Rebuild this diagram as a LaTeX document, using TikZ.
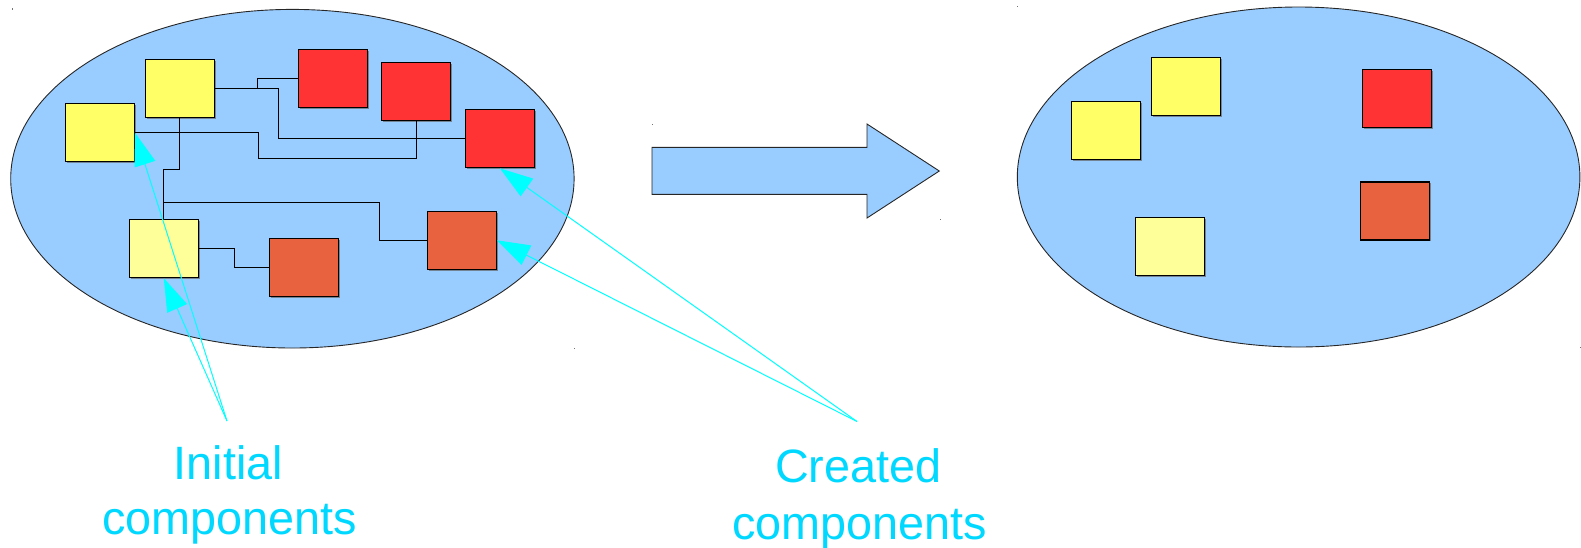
\documentclass[tikz,border=0pt]{standalone}
\usepackage{fontspec}
\setmainfont{Liberation Sans}
\usetikzlibrary{arrows.meta,shadows}

\definecolor{setblue}{HTML}{99CCFF}
\definecolor{compyellow}{HTML}{FFFF66}
\definecolor{comppale}{HTML}{FFFF99}
\definecolor{compred}{HTML}{FF3333}
\definecolor{comporange}{HTML}{E9623F}
\definecolor{pointcyan}{HTML}{00FFFF}
\definecolor{labelcyan}{HTML}{00D8FF}

\tikzset{
  setshape/.style={fill=setblue, draw=black!85, line width=0.9pt},
  comp/.style={rectangle, draw=black, line width=1.1pt, minimum width=69pt,
    minimum height=58pt, inner sep=0pt,
    drop shadow={shadow xshift=1.3pt, shadow yshift=-1.3pt, fill=black!60, opacity=0.7}},
  yel/.style={comp, fill=compyellow},
  pale/.style={comp, fill=comppale},
  redc/.style={comp, fill=compred},
  orc/.style={comp, fill=comporange},
  wire/.style={draw=black, line width=1pt},
  pointer/.style={draw=pointcyan, line width=1pt,
    -{Triangle[length=33pt,width=21.5pt,fill=pointcyan]}},
  caption/.style={text=labelcyan, font=\fontsize{46.8}{57}\selectfont, inner sep=0pt, anchor=base},
  corner/.style={fill=black!55},
}

\begin{document}
\begin{tikzpicture}[x=1pt,y=-1pt]
  \useasboundingbox (0,0) rectangle (1581,547);

  % the two component sets
  \path[setshape] (292.4,178.7) ellipse [x radius=281.7, y radius=169.3];
  \path[setshape] (1298.6,177) ellipse [x radius=281.3, y radius=170];

  % transformation arrow
  \path[setshape] (652,147.3) -- (867,147.3) -- (867,124) -- (939.3,171)
    -- (867,218) -- (867,194.3) -- (652,194.3) -- cycle;

  % bounding-box corner marks
  \foreach \p in {(11.5,8.3),(574,348),(652,123.5),(940,218.5),(1017,6),(1580,347)}
    \fill[corner] \p rectangle ++(1.4,1.4);

  % components before the transformation
  \node[yel]  (A)  at (99.85,132.7) {};
  \node[yel]  (B)  at (179.85,88.5) {};
  \node[redc] (R1) at (332.9,78.5) {};
  \node[redc] (R2) at (416.4,91.3) {};
  \node[redc] (R3) at (500,138.85) {};
  \node[pale] (C)  at (163.8,248.7) {};
  \node[orc]  (O1) at (303.85,267.5) {};
  \node[orc]  (O2) at (461.95,240.3) {};

  % bindings between them
  \draw[wire] (B.east) -- ++(42.1,0) |- (R1.west);
  \draw[wire] (B.east) -- ++(63.9,0) |- (R3.west);
  \draw[wire] (A.east) -- ++(124,0) -- ++(0,25.6) -| (R2.south);
  \draw[wire] (B.south) -- ++(0,51.3) -| (C.north);
  \path (C.north) ++(0,-16.4) coordinate (J);
  \draw[wire] (J) -- ++(215.8,0) |- (O2.west);
  \draw[wire] (C.east) -- ++(35.2,0) |- (O1.west);

  % components after the transformation
  \node[yel]  (A2) at (1106.15,130.3) {};
  \node[yel]  (B2) at (1185.95,86.5) {};
  \node[redc] (R4) at (1397,98.3) {};
  \node[orc]  (O3) at (1395.15,211) {};
  \node[pale] (C2) at (1169.85,246.5) {};

  % captions
  \node[caption] (ini1) at (228.3,479.3) {Initial};
  \node[caption] (ini2) at (229.7,534) {components};
  \node[caption] (cre1) at (858.3,482.5) {Created};
  \node[caption] (cre2) at (859.5,539) {components};

  % pointers from the captions
  \coordinate (Pi) at (227,421);
  \coordinate (Pc) at (857,421.5);
  \draw[pointer] (Pi) -- (A.east);
  \draw[pointer] (Pi) -- (C.south);
  \draw[pointer] (Pc) -- (R3.south);
  \draw[pointer] (Pc) -- (O2.east);
\end{tikzpicture}
\end{document}
